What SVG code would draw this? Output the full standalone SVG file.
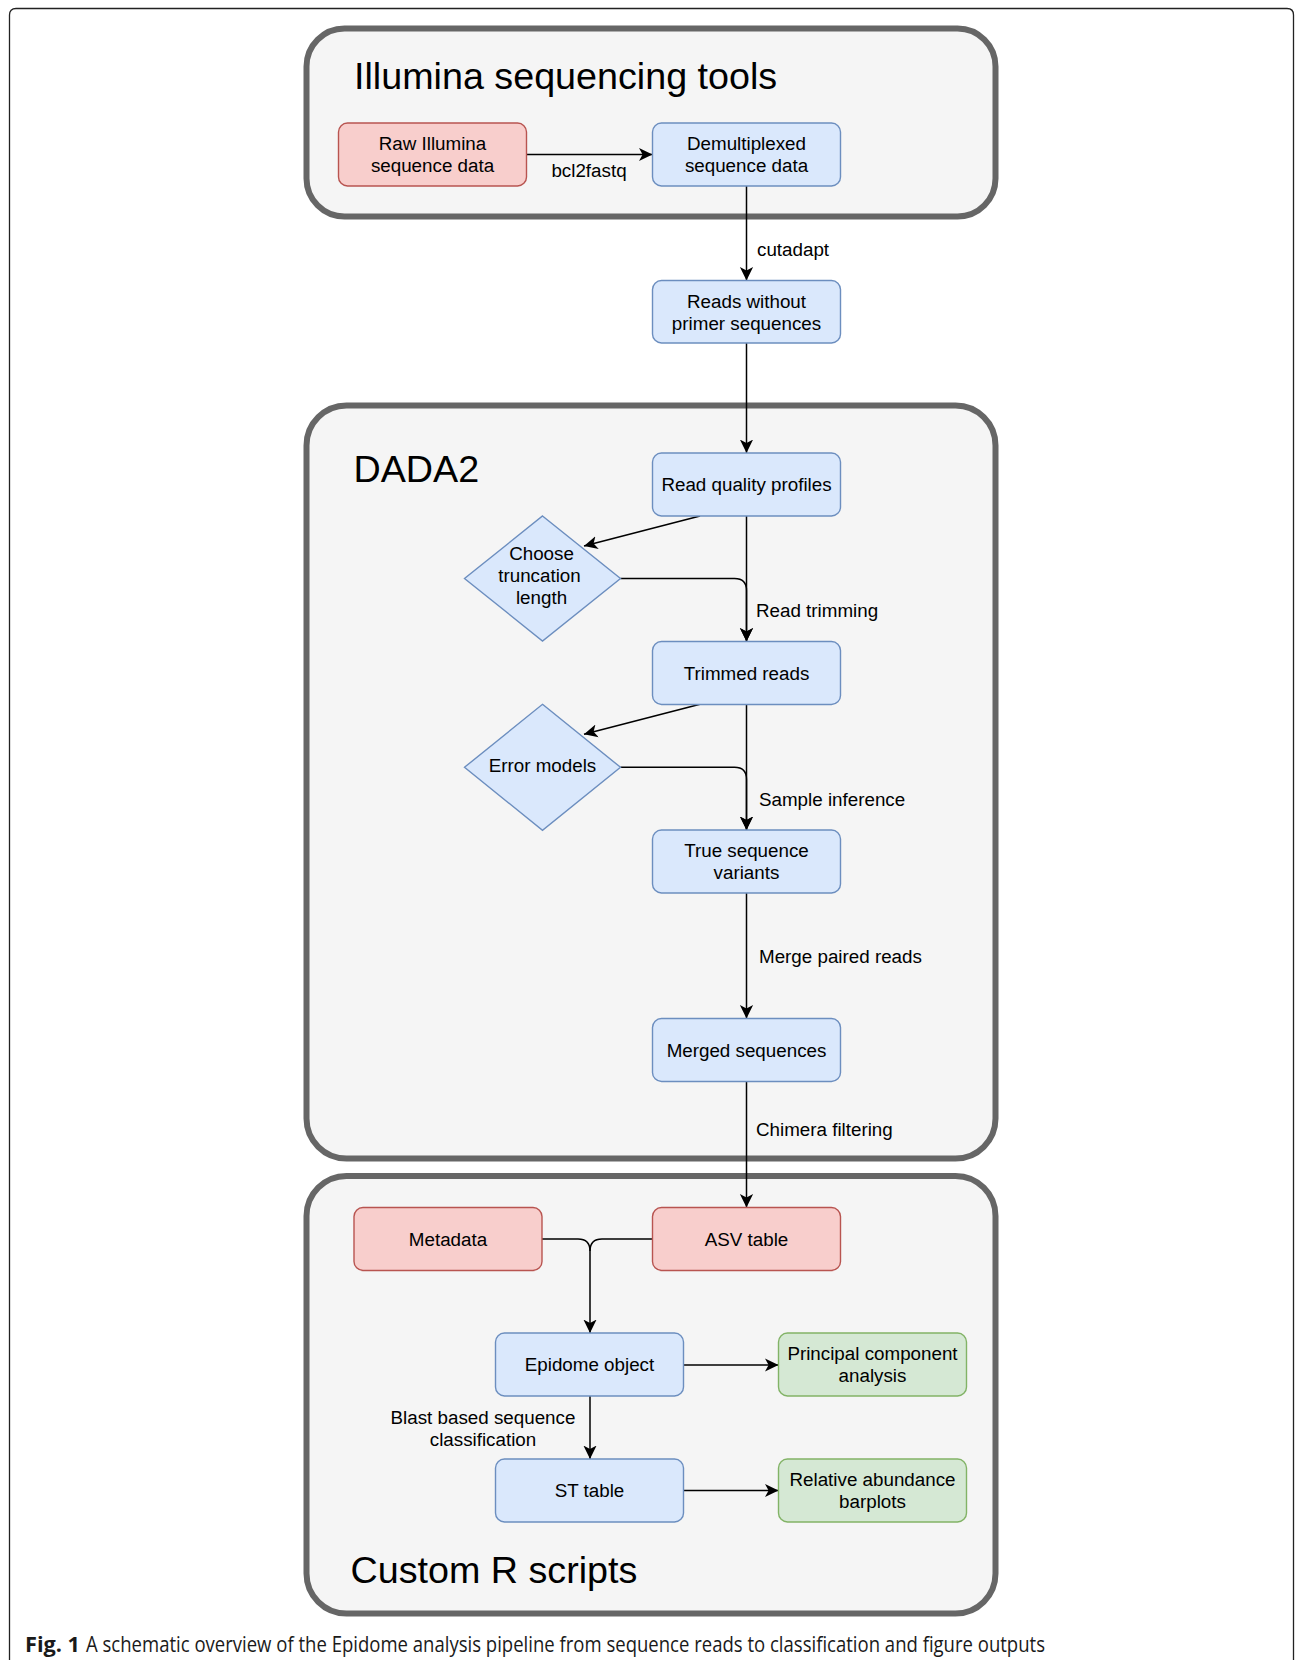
<svg xmlns="http://www.w3.org/2000/svg" width="1295" height="1660" viewBox="0 0 1295 1660">
<defs>
<style>
.grp{fill:#f5f5f5;stroke:#666666;stroke-width:6}
.blue{fill:#dae8fc;stroke:#6c8ebf;stroke-width:1.4}
.red{fill:#f8cecc;stroke:#b85450;stroke-width:1.4}
.green{fill:#d5e8d4;stroke:#82b366;stroke-width:1.4}
.t{font-family:"Liberation Sans",Arial,Helvetica,sans-serif;font-size:18.8px;fill:#000;text-anchor:middle}
.lbl{font-family:"Liberation Sans",Arial,Helvetica,sans-serif;font-size:18.8px;fill:#000}
.title{font-family:"Liberation Sans",Arial,Helvetica,sans-serif;font-size:37.7px;fill:#000}
.edge{fill:none;stroke:#000;stroke-width:1.5}
.cap{font-family:"Open Sans","Noto Sans",sans-serif;font-size:21px;fill:#1a1a1a}
</style>
<marker id="arr" markerUnits="userSpaceOnUse" markerWidth="15" markerHeight="15" viewBox="0 -7.5 15 15" refX="13.5" refY="0" orient="auto">
<path d="M0,-6.6 L13.5,0 L0,6.6 L3.6,0 Z" fill="#000"/>
</marker>
</defs>
<rect width="1295" height="1660" fill="#ffffff"/>
<path d="M9.5,1665 V15 Q9.5,8.5 16,8.5 H1287 Q1293.5,8.5 1293.5,15 V1665" fill="none" stroke="#222" stroke-width="1.3"/>

<g id="group-illumina">
<rect class="grp" x="306.5" y="28.5" width="689" height="188" rx="38"/>
<text class="title" x="354" y="89">Illumina sequencing tools</text>
</g>
<g id="group-dada2">
<rect class="grp" x="306.5" y="405.5" width="689" height="753" rx="40"/>
<text class="title" x="353.5" y="482">DADA2</text>
</g>
<g id="group-custom-r">
<rect class="grp" x="306.5" y="1176" width="689" height="437.5" rx="40"/>
<text class="title" x="350.5" y="1582.5">Custom R scripts</text>
</g>

<g id="connectors">
<path class="edge" d="M526.5,154.5 H652.5" marker-end="url(#arr)"/>
<text class="lbl" x="589" y="177" text-anchor="middle">bcl2fastq</text>
<path class="edge" d="M746.5,186 V280.5" marker-end="url(#arr)"/>
<text class="lbl" x="757" y="256">cutadapt</text>
<path class="edge" d="M746.5,343 V453" marker-end="url(#arr)"/>
<path class="edge" d="M700,516 L584,546" marker-end="url(#arr)"/>
<path class="edge" d="M746.5,516 V641.5" marker-end="url(#arr)"/>
<path class="edge" d="M620.5,578.5 H734.5 Q746.5,578.5 746.5,590.5 V641.5" marker-end="url(#arr)"/>
<text class="lbl" x="756" y="617">Read trimming</text>
<path class="edge" d="M700,704.3 L584,734.3" marker-end="url(#arr)"/>
<path class="edge" d="M746.5,704.3 V830" marker-end="url(#arr)"/>
<path class="edge" d="M620.5,767.3 H734.5 Q746.5,767.3 746.5,779.3 V830" marker-end="url(#arr)"/>
<text class="lbl" x="759" y="806">Sample inference</text>
<path class="edge" d="M746.5,893 V1018.5" marker-end="url(#arr)"/>
<text class="lbl" x="759" y="963">Merge paired reads</text>
<path class="edge" d="M746.5,1081.5 V1207.5" marker-end="url(#arr)"/>
<text class="lbl" x="756" y="1136">Chimera filtering</text>
<path class="edge" d="M542,1239 H578 Q590,1239 590,1251 V1333" marker-end="url(#arr)"/>
<path class="edge" d="M652.5,1239 H602 Q590,1239 590,1251"/>
<path class="edge" d="M684,1365 H778.5" marker-end="url(#arr)"/>
<path class="edge" d="M590,1396 V1459" marker-end="url(#arr)"/>
<text class="lbl" x="483" y="1423.5" text-anchor="middle">Blast based sequence</text>
<text class="lbl" x="483" y="1445.5" text-anchor="middle">classification</text>
<path class="edge" d="M684,1490.5 H778.5" marker-end="url(#arr)"/>
</g>

<g id="node-raw">
<rect class="red" x="338.5" y="123" width="188" height="63" rx="9"/>
<text class="t" x="432.5" y="150">Raw Illumina</text>
<text class="t" x="432.5" y="172">sequence data</text>
</g>
<g id="node-demux">
<rect class="blue" x="652.5" y="123" width="188" height="63" rx="9"/>
<text class="t" x="746.5" y="150">Demultiplexed</text>
<text class="t" x="746.5" y="172">sequence data</text>
</g>
<g id="node-reads">
<rect class="blue" x="652.5" y="280.5" width="188" height="62.5" rx="9"/>
<text class="t" x="746.5" y="307.5">Reads without</text>
<text class="t" x="746.5" y="329.5">primer sequences</text>
</g>
<g id="node-rqp">
<rect class="blue" x="652.5" y="453" width="188" height="63" rx="9"/>
<text class="t" x="746.5" y="491">Read quality profiles</text>
</g>
<g id="node-choose">
<polygon class="blue" points="542.5,516 620.5,578.5 542.5,641 464.5,578.5"/>
<text class="t" x="541.5" y="560">Choose</text>
<text class="t" x="539.5" y="582">truncation</text>
<text class="t" x="541.5" y="604">length</text>
</g>
<g id="node-trimmed">
<rect class="blue" x="652.5" y="641.5" width="188" height="63" rx="9"/>
<text class="t" x="746.5" y="679.5">Trimmed reads</text>
</g>
<g id="node-error">
<polygon class="blue" points="542.5,704.3 620.5,767.3 542.5,830.3 464.5,767.3"/>
<text class="t" x="542.5" y="772">Error models</text>
</g>
<g id="node-true">
<rect class="blue" x="652.5" y="830" width="188" height="63" rx="9"/>
<text class="t" x="746.5" y="857">True sequence</text>
<text class="t" x="746.5" y="879">variants</text>
</g>
<g id="node-merged">
<rect class="blue" x="652.5" y="1018.5" width="188" height="63" rx="9"/>
<text class="t" x="746.5" y="1056.5">Merged sequences</text>
</g>
<g id="node-metadata">
<rect class="red" x="354" y="1207.5" width="188" height="63" rx="9"/>
<text class="t" x="448" y="1245.5">Metadata</text>
</g>
<g id="node-asv">
<rect class="red" x="652.5" y="1207.5" width="188" height="63" rx="9"/>
<text class="t" x="746.5" y="1245.5">ASV table</text>
</g>
<g id="node-epidome">
<rect class="blue" x="495.5" y="1333" width="188" height="63" rx="9"/>
<text class="t" x="589.5" y="1371">Epidome object</text>
</g>
<g id="node-pca">
<rect class="green" x="778.5" y="1333" width="188" height="63" rx="9"/>
<text class="t" x="872.5" y="1360">Principal component</text>
<text class="t" x="872.5" y="1382">analysis</text>
</g>
<g id="node-st">
<rect class="blue" x="495.5" y="1459" width="188" height="63" rx="9"/>
<text class="t" x="589.5" y="1497">ST table</text>
</g>
<g id="node-relab">
<rect class="green" x="778.5" y="1459" width="188" height="63" rx="9"/>
<text class="t" x="872.5" y="1486">Relative abundance</text>
<text class="t" x="872.5" y="1508">barplots</text>
</g>

<text class="cap" x="25" y="1652" font-weight="bold" textLength="55" lengthAdjust="spacingAndGlyphs">Fig. 1</text>
<text class="cap" x="86" y="1652" textLength="959" lengthAdjust="spacingAndGlyphs">A schematic overview of the Epidome analysis pipeline from sequence reads to classification and figure outputs</text>
</svg>
